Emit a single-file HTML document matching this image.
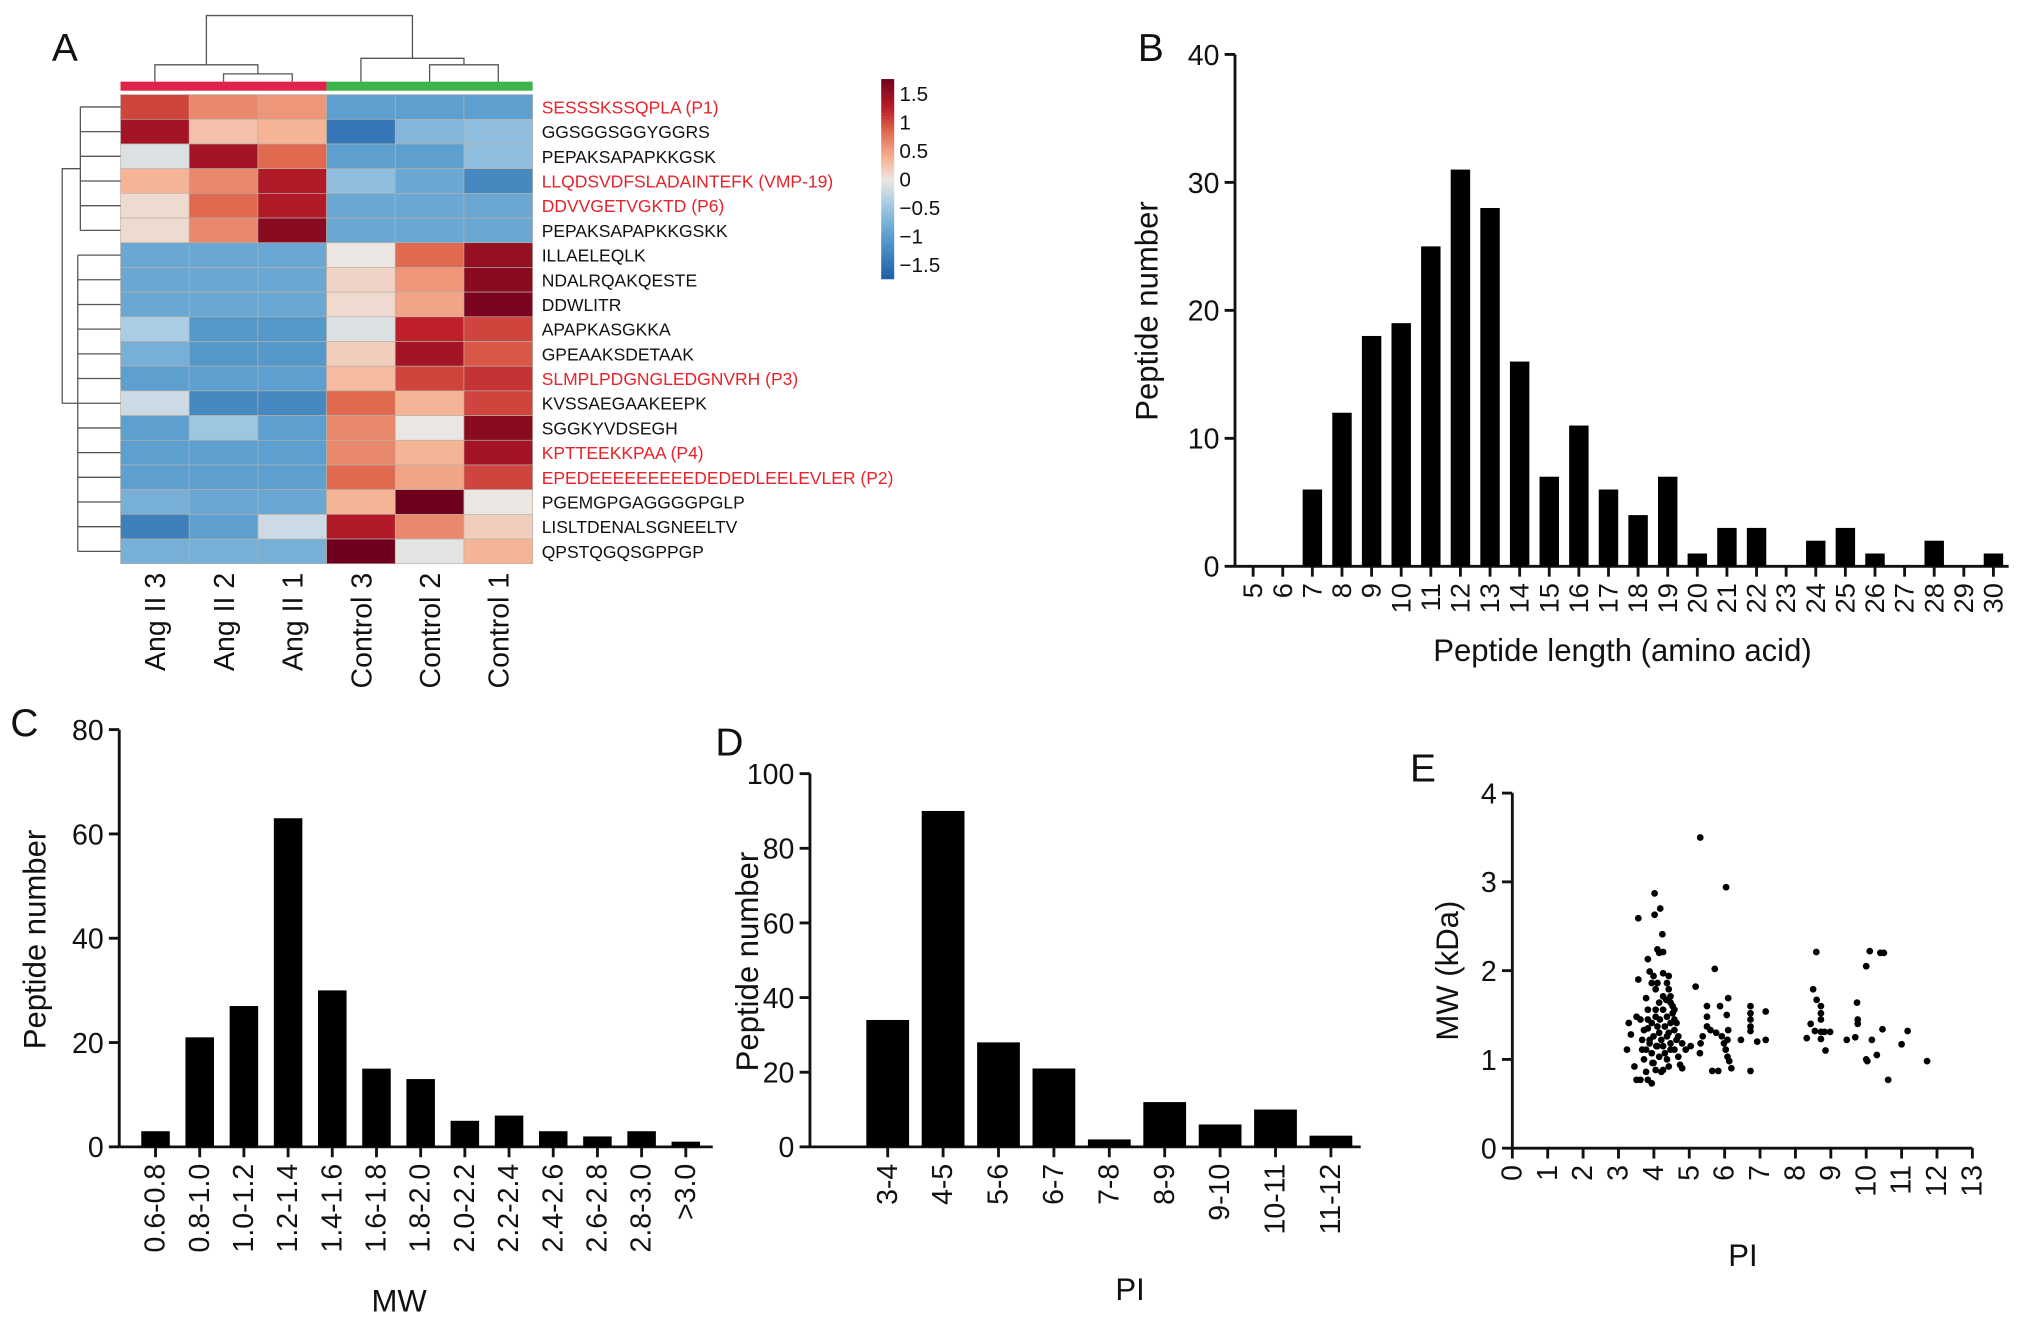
<!DOCTYPE html>
<html><head><meta charset="utf-8"><style>
html,body{margin:0;padding:0;background:#fff}
svg{display:block}
text{font-family:"Liberation Sans",Arial,sans-serif;fill:#111}
</style></head><body>
<svg id="fig" width="2032" height="1327" viewBox="0 0 1568 1024" xmlns="http://www.w3.org/2000/svg">
<g id="gA"></g>
<g id="gB"></g>
<g id="gC"></g>
<g id="gD"></g>
<g id="gE"></g>
</svg>
<script>
// ---------- data ----------
const heatCols = ["Ang II 3","Ang II 2","Ang II 1","Control 3","Control 2","Control 1"];
const heatRows = ["SESSSKSSQPLA (P1)","GGSGGSGGYGGRS","PEPAKSAPAPKKGSK","LLQDSVDFSLADAINTEFK (VMP-19)","DDVVGETVGKTD (P6)","PEPAKSAPAPKKGSKK","ILLAELEQLK","NDALRQAKQESTE","DDWLITR","APAPKASGKKA","GPEAAKSDETAAK","SLMPLPDGNGLEDGNVRH (P3)","KVSSAEGAAKEEPK","SGGKYVDSEGH","KPTTEEKKPAA (P4)","EPEDEEEEEEEEEDEDEDLEELEVLER (P2)","PGEMGPGAGGGGPGLP","LISLTDENALSGNEELTV","QPSTQGQSGPPGP"];
const heatRed = [1,0,0,1,1,0,0,0,0,0,0,1,0,0,1,1,0,0,0];
const heatVals = [
[1.1,0.7,0.6,-1.0,-1.0,-1.0],
[1.5,0.3,0.4,-1.5,-0.7,-0.6],
[-0.1,1.5,0.9,-1.0,-1.0,-0.6],
[0.4,0.7,1.4,-0.6,-0.9,-1.3],
[0.1,0.9,1.4,-0.9,-0.9,-0.9],
[0.1,0.7,1.7,-0.9,-0.9,-0.9],
[-0.9,-0.9,-0.9,0.0,0.9,1.6],
[-0.9,-0.9,-0.9,0.15,0.6,1.7],
[-0.9,-0.9,-0.9,0.1,0.5,1.8],
[-0.4,-1.1,-1.1,-0.1,1.3,1.1],
[-0.8,-1.1,-1.1,0.2,1.5,1.0],
[-1.0,-1.0,-1.0,0.35,1.1,1.2],
[-0.2,-1.3,-1.3,0.9,0.4,1.1],
[-1.0,-0.5,-1.0,0.7,0.0,1.7],
[-1.0,-1.0,-1.0,0.7,0.4,1.5],
[-1.0,-1.0,-1.0,0.9,0.5,1.1],
[-0.8,-0.9,-0.9,0.4,1.9,0.0],
[-1.4,-1.0,-0.2,1.4,0.7,0.2],
[-0.8,-0.8,-0.8,1.9,-0.05,0.4]];
const legendTicks = [1.5,1,0.5,0,-0.5,-1,-1.5];
const legendTickLabels = ["1.5","1","0.5","0","\u22120.5","\u22121","\u22121.5"];

const lenCats = [5,6,7,8,9,10,11,12,13,14,15,16,17,18,19,20,21,22,23,24,25,26,27,28,29,30];
const lenVals = [0,0,6,12,18,19,25,31,28,16,7,11,6,4,7,1,3,3,0,2,3,1,0,2,0,1];
const lenTicks = [0,10,20,30,40];

const mwCats = ["0.6-0.8","0.8-1.0","1.0-1.2","1.2-1.4","1.4-1.6","1.6-1.8","1.8-2.0","2.0-2.2","2.2-2.4","2.4-2.6","2.6-2.8","2.8-3.0",">3.0"];
const mwVals = [3,21,27,63,30,15,13,5,6,3,2,3,1];
const mwTicks = [0,20,40,60,80];

const piCats = ["3-4","4-5","5-6","6-7","7-8","8-9","9-10","10-11","11-12"];
const piVals = [34,90,28,21,2,12,6,10,3];
const piTicks = [0,20,40,60,80,100];

const scPI = [3.24,3.29,3.35,3.51,3.56,3.45,3.51,3.62,3.67,3.72,3.78,3.83,3.88,3.94,3.99,4.05,3.78,3.88,3.99,4.10,4.26,4.42,4.37,3.94,4.05,4.15,4.26,4.37,4.47,4.58,4.69,4.80,4.90,4.05,4.10,4.15,4.21,4.26,4.31,4.37,4.42,4.26,3.83,3.94,4.15,4.47,4.53,4.58,4.64,4.69,4.74,4.80,4.37,4.47,4.58,4.47,3.83,3.94,4.10,4.31,4.42,4.53,4.64,3.99,3.88,3.78,3.67,3.72,3.62,3.83,4.05,4.26,4.42,4.35,4.17,4.07,3.96,4.21,4.47,4.58,
3.56,4.02,4.18,4.02,4.24,4.10,4.15,4.26,3.83,
5.31,6.04,5.72,5.18,5.04,5.30,5.32,5.38,5.50,5.50,5.50,5.65,5.82,5.87,6.06,6.10,5.60,5.76,5.92,5.98,6.03,6.08,6.13,6.19,6.10,6.08,6.46,6.73,6.73,6.73,6.73,6.73,6.73,6.92,7.16,7.16,
8.32,8.43,8.60,8.72,8.72,8.72,8.55,8.72,8.82,8.98,8.72,8.85,8.59,8.50,
10.1,10.0,10.4,10.5,9.74,9.76,9.76,9.45,9.69,10.0,10.03,10.16,10.46,10.3,10.62,11.0,11.17,11.72];
const scMW = [1.11,1.41,1.28,1.48,1.90,0.92,0.77,0.77,1.11,1.00,0.86,1.35,1.18,1.07,0.96,0.88,1.69,1.99,1.94,1.86,1.97,1.94,1.86,1.86,1.79,1.64,1.56,1.48,1.41,1.33,1.26,1.18,1.11,1.48,1.37,1.30,1.22,1.15,1.07,1.00,0.92,0.88,1.56,1.41,1.03,1.64,1.52,1.45,1.22,1.03,0.94,0.90,1.26,1.18,1.11,1.71,0.77,0.73,1.15,1.37,1.30,1.60,1.41,1.26,1.22,1.11,1.22,1.33,1.45,1.45,1.56,1.71,1.79,1.67,1.45,1.15,0.96,0.86,1.11,1.56,
2.59,2.63,2.70,2.87,2.41,2.24,2.20,2.21,2.13,
3.5,2.94,2.02,1.82,1.15,1.07,1.18,1.26,1.60,1.48,1.37,0.87,0.87,1.60,1.50,1.69,1.33,1.30,1.26,1.18,1.11,1.03,0.98,0.90,1.33,1.22,1.22,1.60,1.52,1.45,1.37,1.32,0.87,1.20,1.22,1.54,
1.24,1.40,1.67,1.60,1.52,1.45,1.32,1.31,1.31,1.31,1.23,1.10,2.21,1.79,
2.22,2.05,2.2,2.2,1.64,1.45,1.40,1.22,1.25,1.0,0.98,1.22,1.34,1.05,0.77,1.17,1.32,0.98];
const scXTicks = [0,1,2,3,4,5,6,7,8,9,10,11,12,13];
const scYTicks = [0,1,2,3,4];

// ---------- helpers ----------
const NS = "http://www.w3.org/2000/svg";
function mk(parent, tag, attrs, txt){
  const e = document.createElementNS(NS, tag);
  for (const k in attrs) e.setAttribute(k, attrs[k]);
  if (txt !== undefined) e.textContent = txt;
  parent.appendChild(e);
  return e;
}
function line(p,x1,y1,x2,y2,w){ return mk(p,"line",{x1:x1,y1:y1,x2:x2,y2:y2,stroke:"#111","stroke-width":w||2.2}); }

const stops = [[-1.8,[31,95,168]],[-1.0,[93,160,207]],[-0.4,[170,205,229]],[0,[235,230,226]],[0.4,[246,180,150]],[0.9,[223,106,80]],[1.3,[190,32,42]],[1.9,[110,0,30]]];
function colorOf(v){
  if (v<=stops[0][0]) return "rgb("+stops[0][1].join(",")+")";
  for (let i=1;i<stops.length;i++){
    if (v<=stops[i][0]){
      const a=stops[i-1], b=stops[i], t=(v-a[0])/(b[0]-a[0]);
      const c=a[1].map((x,j)=>Math.round(x+(b[1][j]-x)*t));
      return "rgb("+c.join(",")+")";
    }
  }
  return "rgb("+stops[stops.length-1][1].join(",")+")";
}

// ---------- Panel A ----------
(function(){
  const g = document.getElementById("gA");
  const lt = mk(g,"text",{x:40,y:47,"font-size":30},"A");
  
  
  const x0=93, xEnd=411, y0=73, yEnd=435;
  const cw=(xEnd-x0)/heatCols.length, rh=(yEnd-y0)/heatRows.length;
  const gb1=mk(g,"rect",{x:x0,y:63,width:cw*3,height:7,fill:"#e0234a"});
  
  
  const gb2=mk(g,"rect",{x:x0+cw*3,y:63,width:cw*3,height:7,fill:"#3cb44b"});
  
  
  heatRows.forEach((r,i)=>{
    heatCols.forEach((c,j)=>{
      const cell=mk(g,"rect",{x:x0+j*cw,y:y0+i*rh,width:cw,height:rh,fill:colorOf(heatVals[i][j]),stroke:"#b8b0a8","stroke-width":0.5});
      
      
    });
    const t=mk(g,"text",{x:418,y:y0+i*rh+rh/2+5,"font-size":13.5},r);
    t.style.fill=heatRed[i]?"#e8222a":"#111";
    
    
  });
  heatCols.forEach((c,j)=>{
    const cx=x0+j*cw+cw/2+8;
    const t=mk(g,"text",{x:cx,y:442,"font-size":22,"text-anchor":"end",transform:"rotate(-90 "+cx+" 442)"},c);
    
    
  });
  const cc=j=>x0+j*cw+cw/2;
  const dg=mk(g,"g",{stroke:"#555","stroke-width":1,fill:"none"});
  
  
  const pl=(pts)=>mk(dg,"polyline",{points:pts});
  pl(`${cc(1)},63 ${cc(1)},57 ${cc(2)},57 ${cc(2)},63`);
  const m12=(cc(1)+cc(2))/2;
  pl(`${cc(0)},63 ${cc(0)},50 ${m12},50 ${m12},57`);
  const mL=(cc(0)+m12)/2;
  pl(`${cc(4)},63 ${cc(4)},50 ${cc(5)},50 ${cc(5)},63`);
  const m45=(cc(4)+cc(5))/2;
  pl(`${cc(3)},63 ${cc(3)},45 ${m45},45 ${m45},50`);
  const mR=(cc(3)+m45)/2;
  pl(`${mL},50 ${mL},12 ${mR},12 ${mR},45`);
  const rc=i=>y0+i*rh+rh/2;
  const rd=mk(g,"g",{stroke:"#555","stroke-width":1,fill:"none"});
  
  
  for(let i=0;i<6;i++) mk(rd,"line",{x1:62,y1:rc(i),x2:93,y2:rc(i)});
  mk(rd,"line",{x1:62,y1:rc(0),x2:62,y2:rc(5)});
  for(let i=6;i<19;i++) mk(rd,"line",{x1:60,y1:rc(i),x2:93,y2:rc(i)});
  mk(rd,"line",{x1:60,y1:rc(6),x2:60,y2:rc(18)});
  const tm=(rc(0)+rc(5))/2, bm=(rc(6)+rc(18))/2;
  mk(rd,"polyline",{points:`62,${tm} 48,${tm} 48,${bm} 60,${bm}`});
  const lg=mk(g,"g",{});
  
  
  const lyF=vv=>138-(vv)*44;
  for(let k=0;k<60;k++){
    const v1=1.75-k*(3.5/60);
    mk(lg,"rect",{x:680,y:lyF(v1),width:10,height:3.5/60*44+0.5,fill:colorOf(v1*1.05)});
  }
  legendTicks.forEach((v,k)=>{
    mk(lg,"text",{x:694,y:lyF(v)+6,"font-size":16},legendTickLabels[k]);
  });
})();

// ---------- generic bar chart ----------
function barChart(g, o){
  const ys=v=>o.yb-(v/o.ymax)*(o.yb-o.yt);
  const xs=i=>o.xc0+i*o.dx;
  line(g,o.xa,o.yt,o.xa,o.yb);
  line(g,o.xa,o.yb,o.xe,o.yb);
  o.ticks.forEach(t=>{
    const tk=line(g,o.xa-8,ys(t),o.xa,ys(t));
    
    
    const tl=mk(g,"text",{x:o.xa-12,y:ys(t)+8,"font-size":22,"text-anchor":"end"},String(t));
    
    
  });
  o.vals.forEach((v,i)=>{
    const b=mk(g,"rect",{x:xs(i)-o.bw/2,y:ys(v),width:o.bw,height:o.yb-ys(v),fill:"#000"});
    
    
    const tk=line(g,xs(i),o.yb,xs(i),o.yb+8);
    
    
    const lx=xs(i)+7, lyy=o.yb+13;
    const tl=mk(g,"text",{x:lx,y:lyy,"font-size":o.fs||22,"text-anchor":"end",transform:`rotate(-90 ${lx} ${lyy})`},String(o.cats[i]));
    
    
  });
  const xt=mk(g,"text",{x:o.xtx,y:o.xty,"font-size":24,"text-anchor":"middle"},o.xtitle);
  
  
  const ytt=mk(g,"text",{x:o.ytx,y:o.yty,"font-size":24,"text-anchor":"middle",transform:`rotate(-90 ${o.ytx} ${o.yty})`},"Peptide number");
  
  
  const pll=mk(g,"text",{x:o.lx,y:o.ly,"font-size":30},o.letter);
  
  
}
barChart(document.getElementById("gB"),{vals:lenVals,cats:lenCats,ticks:lenTicks,ymax:40,xa:953,xe:1550,yt:42,yb:437,xc0:967,dx:22.85,bw:15,fs:21,xtitle:"Peptide length (amino acid)",xtx:1252,xty:510,ytx:893,yty:240,letter:"B",lx:878,ly:47});
barChart(document.getElementById("gC"),{vals:mwVals,cats:mwCats,ticks:mwTicks,ymax:80,xa:92,xe:550,yt:563,yb:885,xc0:120,dx:34.1,bw:22,xtitle:"MW",xtx:308,xty:1012,ytx:35,yty:725,letter:"C",lx:8,ly:568});
barChart(document.getElementById("gD"),{vals:piVals,cats:piCats,ticks:piTicks,ymax:100,xa:625,xe:1050,yt:597,yb:885,xc0:685,dx:42.75,bw:33,xtitle:"PI",xtx:872,xty:1003,ytx:585,yty:742,letter:"D",lx:552,ly:583});

// ---------- Panel E scatter ----------
(function(){
  const g=document.getElementById("gE");
  const xa=1167, yb=886, axisTop=612, xr=1522;
  const xs=v=>xa+v*(xr-xa)/13, ys=v=>yb-v*(yb-axisTop)/4;
  line(g,xa,axisTop,xa,yb); line(g,xa,yb,xr,yb);
  scYTicks.forEach(t=>{
    const tk=line(g,xa-8,ys(t),xa,ys(t));
    
    
    const tl=mk(g,"text",{x:xa-12,y:ys(t)+8,"font-size":22,"text-anchor":"end"},String(t));
    
    
  });
  scXTicks.forEach(t=>{
    const tk=line(g,xs(t),yb,xs(t),yb+8);
    
    
    const lx=xs(t)+7, lyy=yb+13;
    const tl=mk(g,"text",{x:lx,y:lyy,"font-size":22,"text-anchor":"end",transform:`rotate(-90 ${lx} ${lyy})`},String(t));
    
    
  });
  scPI.forEach((p,i)=>{
    const c=mk(g,"circle",{cx:xs(p),cy:ys(scMW[i]),r:2.6,fill:"#000"});
    
    
  });
  const xt=mk(g,"text",{x:1345,y:977,"font-size":24,"text-anchor":"middle"},"PI");
  
  
  const yTitle=mk(g,"text",{x:1125,y:749,"font-size":24,"text-anchor":"middle",transform:"rotate(-90 1125 749)"},"MW (kDa)");
  
  
  const pe=mk(g,"text",{x:1088,y:603,"font-size":30},"E");
  
  
})();
</script>
</body></html>
